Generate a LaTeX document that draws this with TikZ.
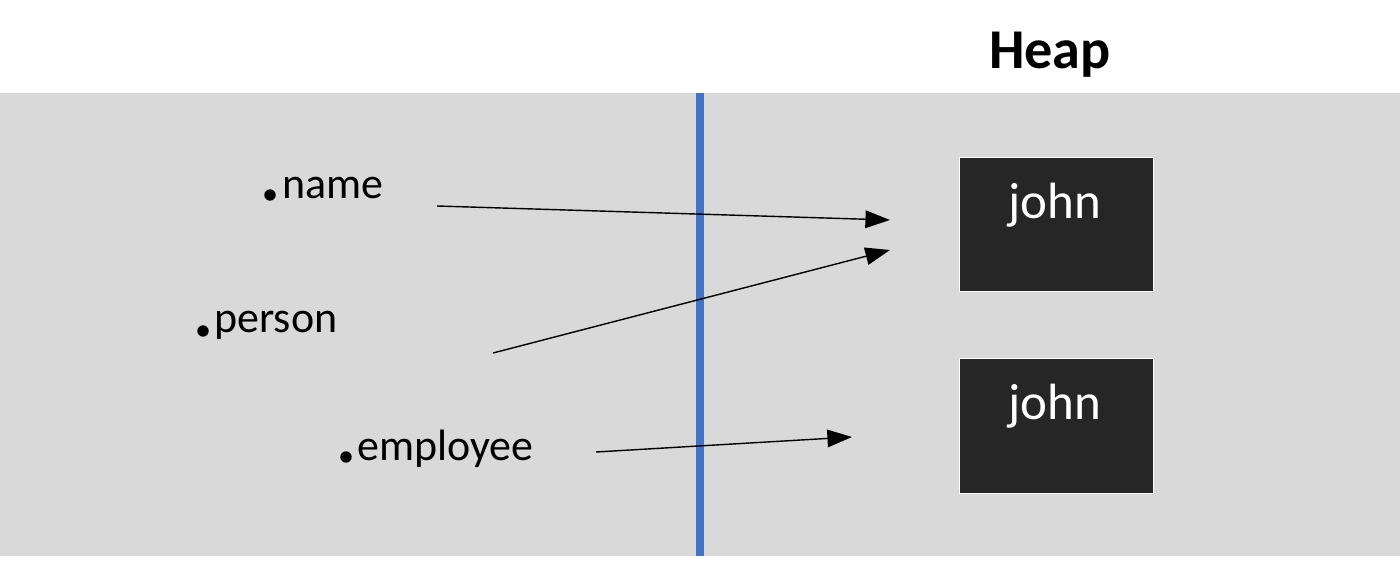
\documentclass[tikz,border=0pt]{standalone}
\usepackage{fontspec}
\setmainfont{Carlito}
\usetikzlibrary{arrows.meta}
\begin{document}
\begin{tikzpicture}[x=0.02cm,y=-0.02cm,
  lbl/.style={anchor=west,font=\fontsize{25}{30}\selectfont,inner sep=0pt},
  dotm/.style={fill=black,circle,inner sep=0pt,minimum size=6.5pt},
  heapbox/.style={draw=white,fill=black!85,line width=0.5pt},
  jtext/.style={text=white,font=\fontsize{29}{34}\selectfont},
  ptr/.style={line width=0.8pt,-{Triangle[length=14pt,width=10pt]}}]
\useasboundingbox (0,0) rectangle (1400,561);
\fill[black!15] (0,93) rectangle (1400,556);
\draw[line width=4.5pt,color={rgb,255:red,68;green,114;blue,196}] (700,93) -- (700,556);
\node[font=\fontsize{32}{38}\selectfont\bfseries] (heap) at (1050,55) {Heap};
\draw[heapbox] (959,157) rectangle (1153,291);
\draw[heapbox] (959,358) rectangle (1153,493);
\node[jtext] (j1) at (1055,205) {john};
\node[jtext] (j2) at (1055,406) {john};
\node[dotm] (d1) at (270,195) {};
\node[dotm] (d2) at (203,331) {};
\node[dotm] (d3) at (346,457) {};
\node[lbl] (name) at (282,188) {name};
\node[lbl] (person) at (214,325) {person};
\node[lbl] (emp) at (357,449) {employee};
\coordinate (a1s) at (437,206); \coordinate (a1e) at (890,220);
\coordinate (a2s) at (493,353); \coordinate (a2e) at (890,250);
\coordinate (a3s) at (596,452); \coordinate (a3e) at (852,437);
\draw[ptr] (a1s) -- (a1e);
\draw[ptr] (a2s) -- (a2e);
\draw[ptr] (a3s) -- (a3e);
\end{tikzpicture}
\end{document}
